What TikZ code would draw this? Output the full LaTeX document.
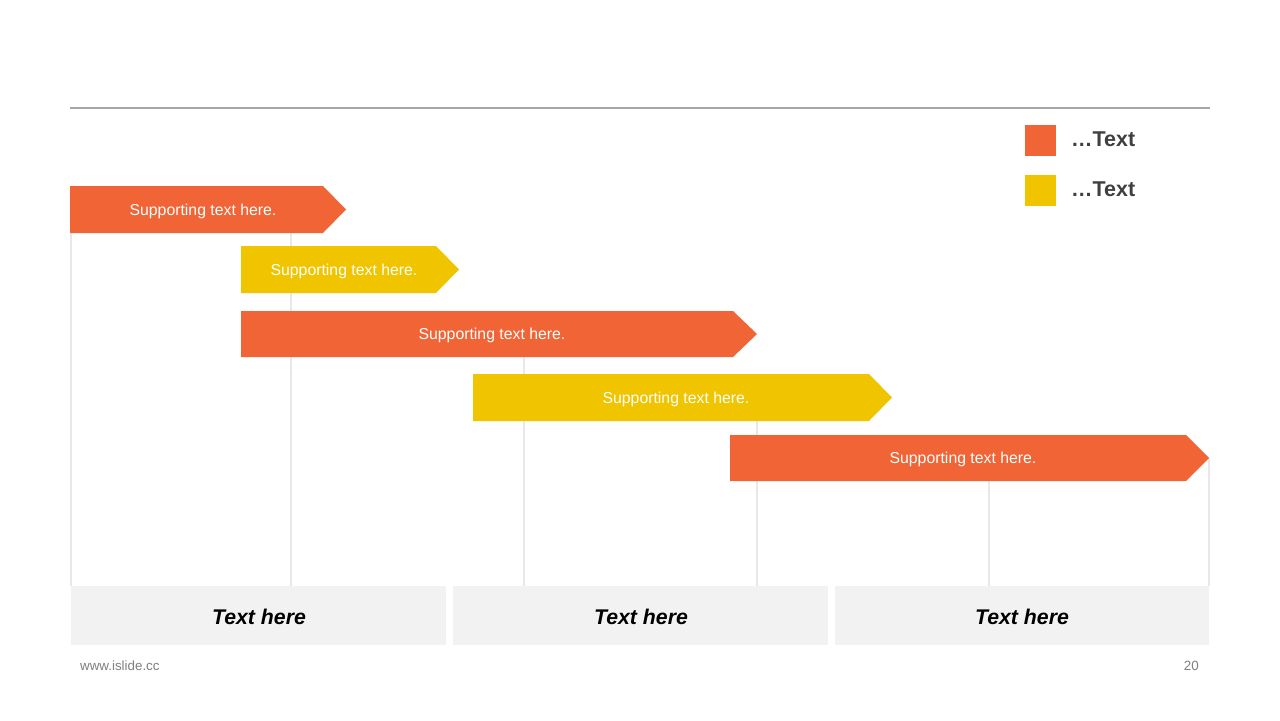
\documentclass[tikz,border=0pt]{standalone}
\usepackage{fontspec}
\setmainfont{Liberation Sans}
\definecolor{barorange}{HTML}{F16436}
\definecolor{baryellow}{HTML}{F1C400}
\definecolor{gridgray}{HTML}{E8E8E8}
\definecolor{boxgray}{HTML}{F2F2F2}
\definecolor{rulegray}{HTML}{A6A6A6}
\definecolor{legendtext}{HTML}{404040}
\definecolor{footgray}{HTML}{7F7F7F}
\begin{document}
\begin{tikzpicture}[x=0.02cm, y=-0.02cm,
    gridline/.style={gridgray, line width=0.6pt},
    bartext/.style={text=white, font=\fontsize{9}{10}\selectfont},
    headtext/.style={font=\fontsize{12.1}{15}\selectfont\bfseries\itshape},
    legtext/.style={anchor=west, text=legendtext, font=\fontsize{12.2}{14}\selectfont\bfseries},
    foottext/.style={text=footgray, font=\fontsize{7.6}{9}\selectfont}]
    \useasboundingbox (0,0) rectangle (1280,720);
    \fill[white] (0,0) rectangle (1280,720);
    \draw[rulegray, line width=0.6pt] (70,108) -- (1210,108);
    % grid
    \draw[gridline] (71,233) -- (71,586);
    \draw[gridline] (291,233) -- (291,586);
    \draw[gridline] (524,357) -- (524,586);
    \draw[gridline] (757,421) -- (757,586);
    \draw[gridline] (989,481) -- (989,586);
    \draw[gridline] (1209,458) -- (1209,586);
    % bottom boxes
    \fill[boxgray] (71,586) rectangle (446,645);
    \fill[boxgray] (453,586) rectangle (828,645);
    \fill[boxgray] (835,586) rectangle (1209,645);
    \node[headtext] (head1) at (259,617) {Text here};
    \node[headtext] (head2) at (641,617) {Text here};
    \node[headtext] (head3) at (1022,617) {Text here};
    % bars
    \fill[barorange] (70,186) -- (323,186) -- (346,209.5) -- (323,233) -- (70,233) -- cycle;
    \node[bartext] (bar1) at (203,211) {Supporting text here.};
    \fill[baryellow] (241,246) -- (436,246) -- (459,269.5) -- (436,293) -- (241,293) -- cycle;
    \node[bartext] (bar2) at (344,271) {Supporting text here.};
    \fill[barorange] (241,311) -- (733,311) -- (757,334) -- (733,357) -- (241,357) -- cycle;
    \node[bartext] (bar3) at (492,335) {Supporting text here.};
    \fill[baryellow] (473,374) -- (869,374) -- (892,397.5) -- (869,421) -- (473,421) -- cycle;
    \node[bartext] (bar4) at (676,399) {Supporting text here.};
    \fill[barorange] (730,435) -- (1186,435) -- (1209,458) -- (1186,481) -- (730,481) -- cycle;
    \node[bartext] (bar5) at (963,459) {Supporting text here.};
    % legend
    \fill[barorange] (1025,125) rectangle (1056,156);
    \node[legtext] (leg1) at (1065,139) {\ldots Text};
    \fill[baryellow] (1025,175) rectangle (1056,206);
    \node[legtext] (leg2) at (1065,189) {\ldots Text};
    % footer
    \node[foottext, anchor=west] (site) at (74,666) {www.islide.cc};
    \node[foottext, anchor=east] (page) at (1205,666) {20};
\end{tikzpicture}
\end{document}
